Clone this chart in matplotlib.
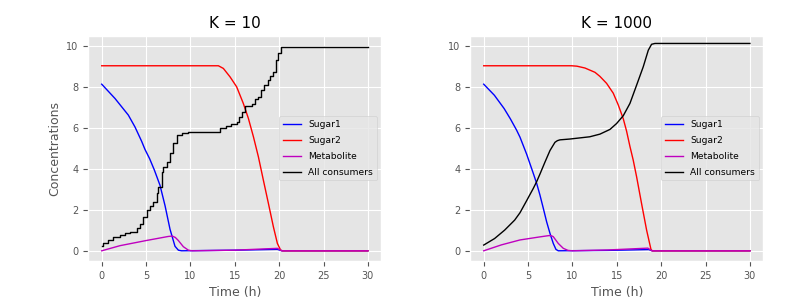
import numpy as np
import matplotlib
matplotlib.use("Agg")
import matplotlib.pyplot as plt

plt.style.use('ggplot')

# ---- K = 10 (readings) ----
k10_s1_t = [0, 1.5, 3.0, 3.75, 4.5, 4.88, 5.4, 5.93, 6.57, 7.14, 7.7, 8.26, 8.64, 9.0, 15, 19.8, 20.3, 30]
k10_s1 = [8.14, 7.44, 6.63, 6.05, 5.35, 4.95, 4.5, 3.95, 3.2, 2.2, 1.05, 0.22, 0.03, 0.0, 0.03, 0.07, 0.0, 0.0]

k10_s2_t = [0, 13.15, 13.71, 14.46, 15.21, 15.96, 16.53, 17.1, 17.66, 18.22, 18.79, 19.35, 19.8, 20.17, 20.4, 30]
k10_s2 = [9.04, 9.04, 8.91, 8.5, 8.01, 7.2, 6.47, 5.57, 4.59, 3.45, 2.31, 1.17, 0.36, 0.03, 0.0, 0.0]

k10_met_t = [0, 2.06, 5, 7.5, 7.95, 8.3, 8.64, 9.2, 9.77, 10.2, 15, 19.8, 20.3, 30]
k10_met = [0.0, 0.25, 0.5, 0.7, 0.72, 0.65, 0.5, 0.2, 0.03, 0.0, 0.03, 0.12, 0.0, 0.0]

# step changes of the consumer count
k10_all_t = [0, 0.2, 0.75, 1.3, 2.06, 2.6, 3.19, 3.94, 4.32, 4.69, 5.07, 5.44, 5.82, 6.2, 6.38, 6.76, 6.95,
             7.32, 7.7, 8.08, 8.45, 9.02, 9.77, 13.33, 14.0, 14.6, 15.2, 15.5, 15.77, 16.15, 16.9, 17.3, 17.6,
             17.98, 18.3, 18.7, 19.0, 19.29, 19.66, 19.85, 20.22, 30]
k10_all = [0.23, 0.4, 0.52, 0.68, 0.76, 0.85, 0.92, 1.09, 1.33, 1.66, 1.99, 2.18, 2.39, 2.8, 3.13, 3.86, 4.1,
           4.35, 4.76, 5.25, 5.65, 5.77, 5.82, 5.98, 6.1, 6.2, 6.3, 6.55, 6.79, 7.07, 7.15, 7.4, 7.52,
           7.85, 8.1, 8.34, 8.55, 8.75, 9.32, 9.64, 9.97, 9.97]

# ---- K = 1000 ----
k1000_s1_t = [0, 1.2, 2.3, 3.0, 3.7, 4.09, 4.84, 5.59, 5.97, 6.34, 6.72, 7.09, 7.47, 7.84, 8.14, 8.4, 14, 18.6, 19.0, 30]
k1000_s1 = [8.14, 7.6, 6.95, 6.45, 5.9, 5.55, 4.72, 3.78, 3.29, 2.72, 2.07, 1.42, 0.85, 0.36, 0.07, 0.0, 0.02, 0.06, 0.0, 0.0]

k1000_s2_t = [0, 9.9, 10.5, 11.41, 12.54, 13.1, 13.85, 14.6, 15.17, 15.73, 16.1, 16.48, 16.85, 17.23, 17.79, 18.36, 18.85, 19.0, 30]
k1000_s2 = [9.04, 9.04, 9.02, 8.93, 8.72, 8.52, 8.18, 7.7, 7.12, 6.45, 5.85, 5.1, 4.43, 3.62, 2.31, 1.01, 0.07, 0.0, 0.0]

k1000_met_t = [0, 2, 4.09, 6.34, 7.3, 7.6, 7.84, 8.4, 8.97, 9.5, 10, 14, 18.5, 18.95, 30]
k1000_met = [0.0, 0.29, 0.53, 0.68, 0.74, 0.74, 0.69, 0.36, 0.12, 0.02, 0.0, 0.04, 0.13, 0.0, 0.0]

k1000_all_t = [0, 1.23, 2.36, 3.49, 4.09, 4.84, 5.59, 5.97, 6.34, 6.9, 7.47, 8.03, 8.3, 8.59, 9.7, 11.95, 13.1, 14.23,
               14.98, 15.73, 16.48, 17.23, 17.98, 18.55, 18.92, 19.3, 30]
k1000_all = [0.28, 0.6, 1.01, 1.5, 1.86, 2.45, 3.05, 3.38, 3.75, 4.33, 4.9, 5.3, 5.38, 5.42, 5.46, 5.57, 5.7, 5.93,
             6.22, 6.6, 7.2, 8.09, 8.99, 9.8, 10.09, 10.13, 10.13]

fig = plt.figure(figsize=(8, 2.99), dpi=100)
ax1 = fig.add_axes([0.1105, 0.127, 0.366, 0.753])
ax2 = fig.add_axes([0.588, 0.127, 0.366, 0.753])

lw = 1.0

ax1.plot(k10_s1_t, k10_s1, color='b', lw=lw, label='Sugar1')
ax1.plot(k10_s2_t, k10_s2, color='r', lw=lw, label='Sugar2')
ax1.plot(k10_met_t, k10_met, color='m', lw=lw, label='Metabolite')
ax1.plot(k10_all_t, k10_all, color='k', lw=lw, drawstyle='steps-post', label='All consumers')
ax1.set_title('K = 10', fontsize=11)
ax1.set_xlabel('Time (h)', fontsize=9)
ax1.set_ylabel('Concentrations', fontsize=9)

ax2.plot(k1000_s1_t, k1000_s1, color='b', lw=lw, label='Sugar1')
ax2.plot(k1000_s2_t, k1000_s2, color='r', lw=lw, label='Sugar2')
ax2.plot(k1000_met_t, k1000_met, color='m', lw=lw, label='Metabolite')
ax2.plot(k1000_all_t, k1000_all, color='k', lw=lw, label='All consumers')
ax2.set_title('K = 1000', fontsize=11)
ax2.set_xlabel('Time (h)', fontsize=9)

for ax in (ax1, ax2):
    ax.set_xlim(-1.5, 31.5)
    ax.set_ylim(-0.5, 10.5)
    ax.set_xticks([0, 5, 10, 15, 20, 25, 30])
    ax.set_yticks([0, 2, 4, 6, 8, 10])
    ax.tick_params(labelsize=7)
    ax.legend(loc='center right', fontsize=6.6, labelspacing=0.75)

fig.savefig('out.png', dpi=100)
